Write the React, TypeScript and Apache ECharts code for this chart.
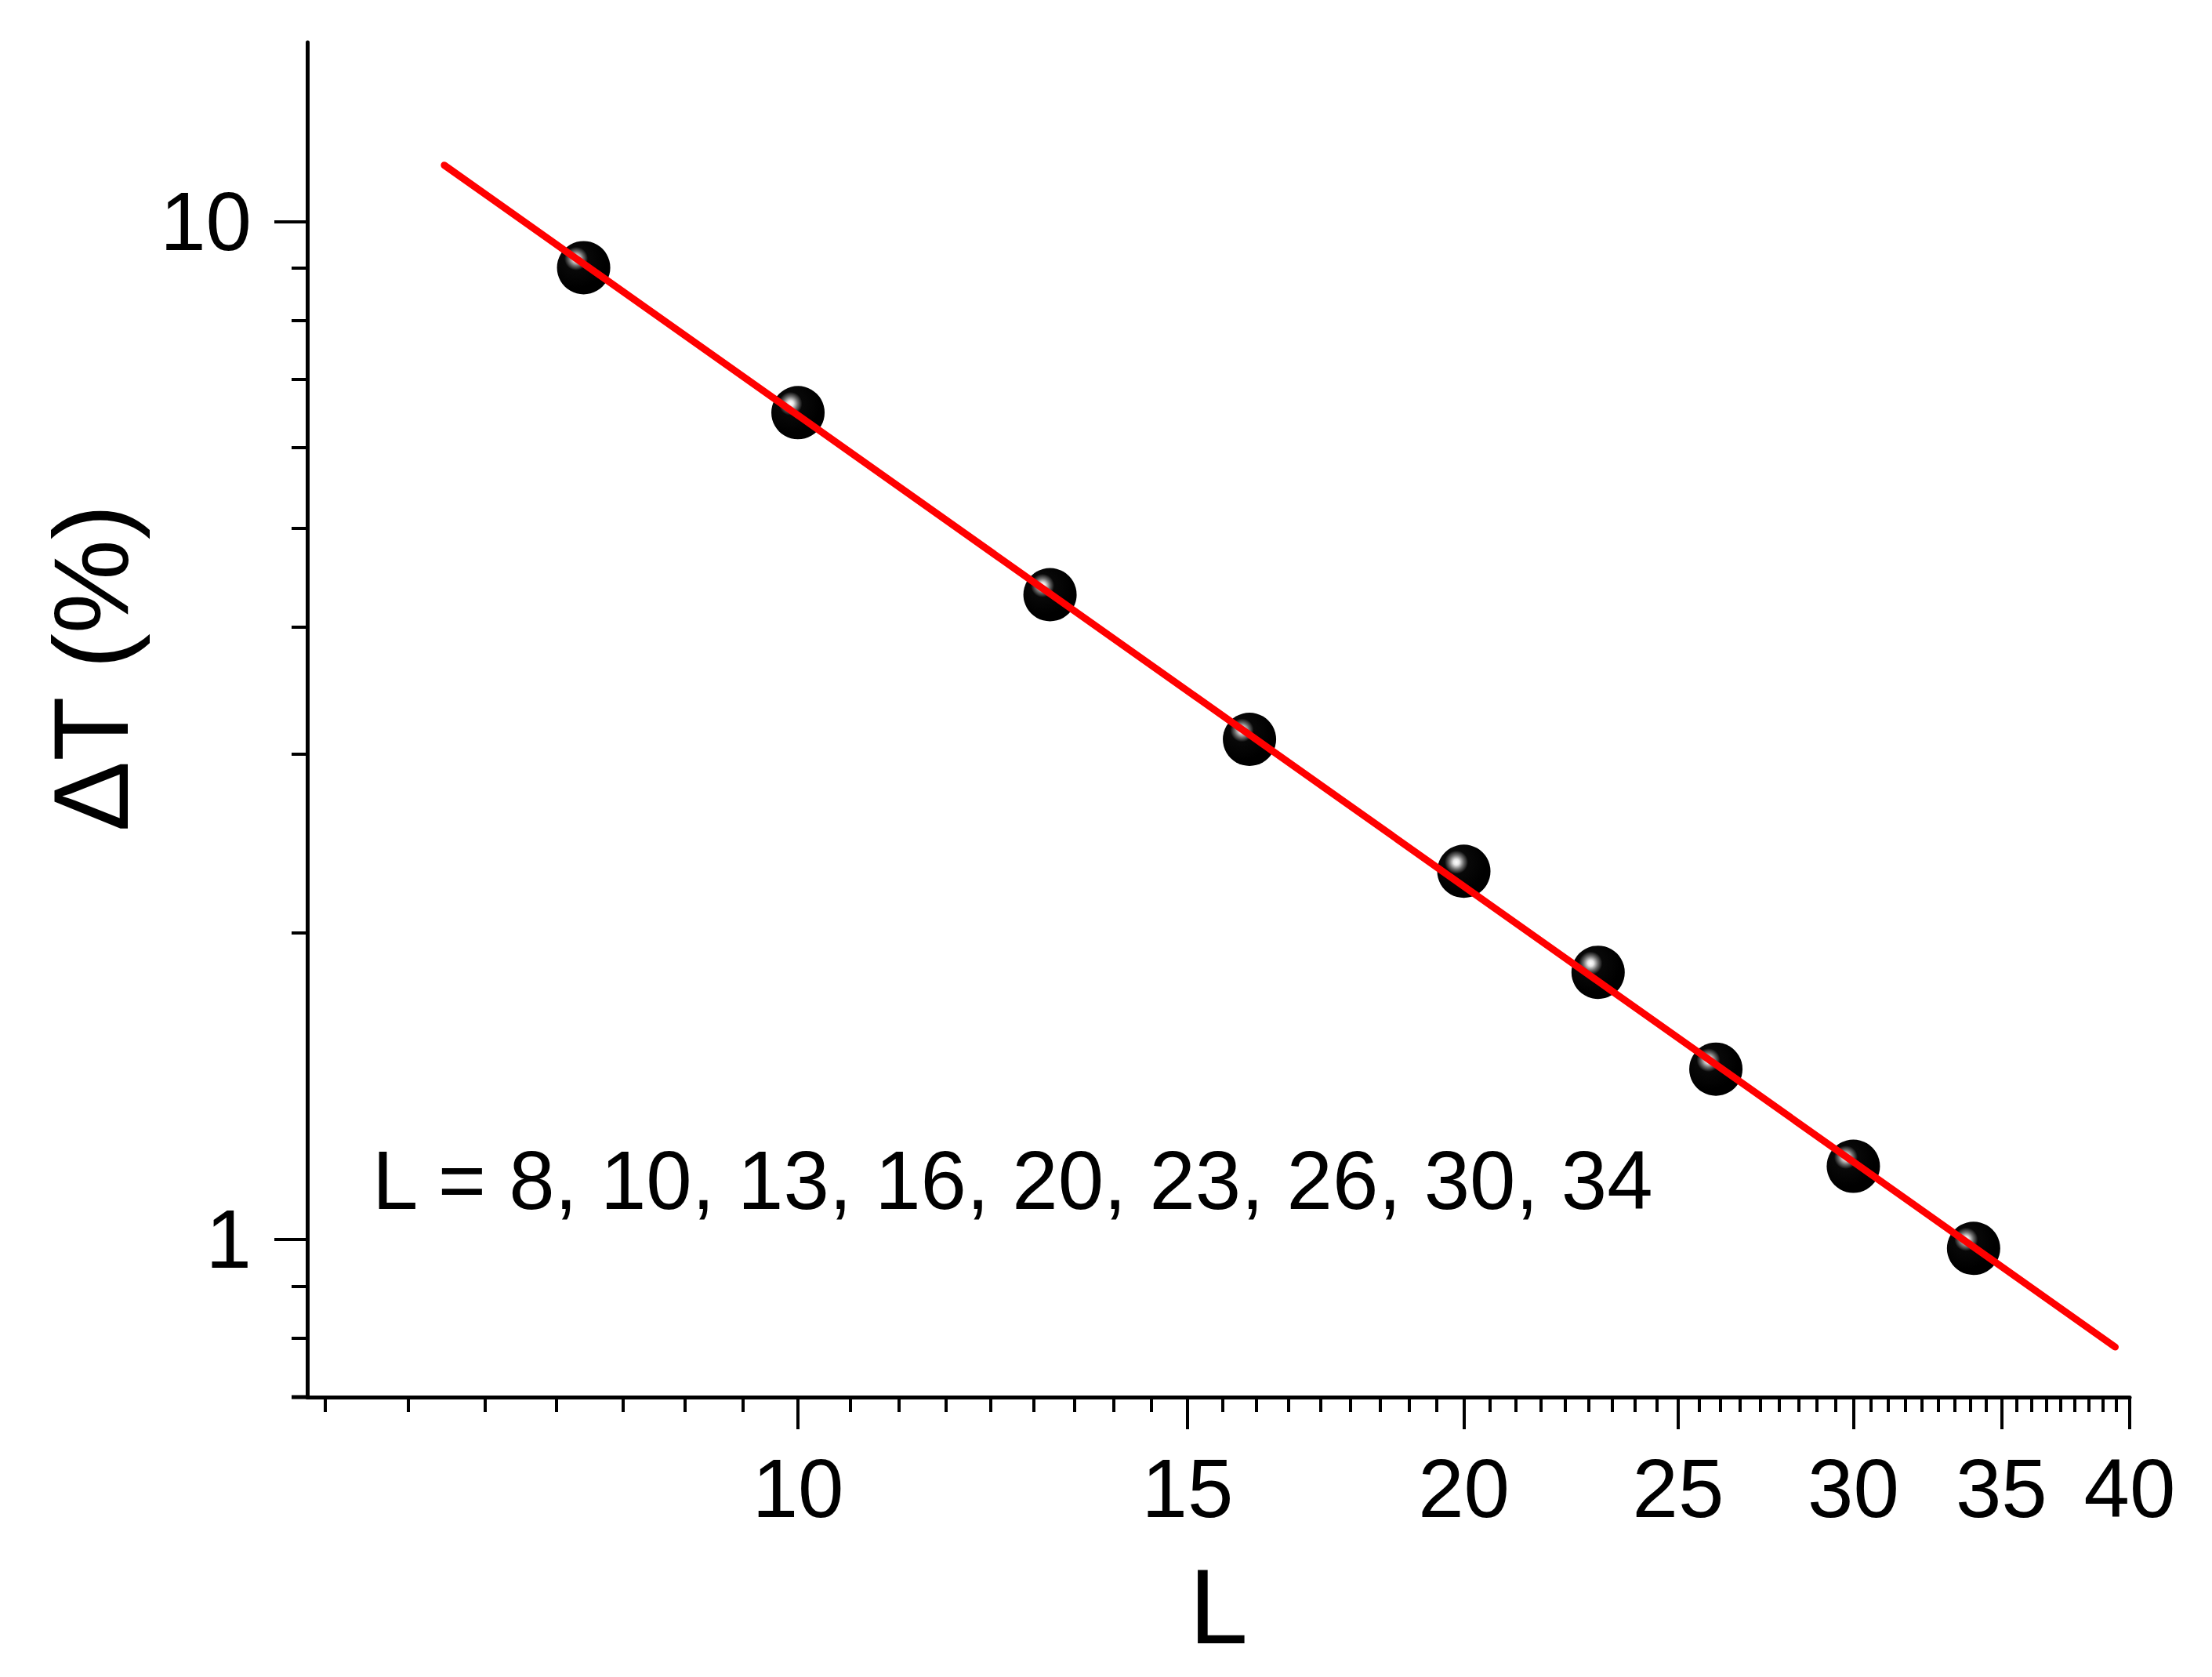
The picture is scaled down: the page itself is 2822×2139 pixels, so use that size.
import React, { useEffect, useRef } from "react";
import * as echarts from "echarts";

// ---- data ----
const sizesL = [8, 10, 13, 16, 20, 23, 26, 30, 34];
const deltaT = [9.01, 6.49, 4.3, 3.1, 2.3, 1.83, 1.47, 1.18, 0.98];
const fitL = [6.92, 39.4];
const fitDeltaT = [11.36, 0.784];

// ---- axis ticks ----
const xMajorTicks = [10, 15, 20, 25, 30, 35, 40];
const xMajorStarts = [5, 10, 15, 20, 25, 30, 35];
const xMinorTicks: number[] = [];
xMajorStarts.forEach((s) => {
  for (let k = 1; k <= 8; k++) {
    const v = s + (5 * k) / 9;
    if (v >= 6) xMinorTicks.push(v);
  }
});
const yMajorTicks = [1, 10];
const yMinorTicks = [0.8, 0.9, 2, 3, 4, 5, 6, 7, 8, 9];
const annotation = "L = 8, 10, 13, 16, 20, 23, 26, 30, 34";

const FONT = "'Liberation Sans', Arial, sans-serif";

export default function App() {
  const ref = useRef<HTMLDivElement>(null);
  useEffect(() => {
    if (!ref.current) return;
    const chart = echarts.init(ref.current, undefined, { renderer: "svg" });
    const axisLine = { show: true, lineStyle: { color: "#000", width: 5 } };
    const tickStyle = { color: "#000", width: 4 };
    const sphere = new echarts.graphic.RadialGradient(0.36, 0.33, 0.55, [
      { offset: 0, color: "#ffffff" },
      { offset: 0.1, color: "#e6e6e6" },
      { offset: 0.25, color: "#6a6a6a" },
      { offset: 0.4, color: "#080808" },
      { offset: 1, color: "#000000" },
    ]);
    chart.setOption({
      animation: false,
      backgroundColor: "#ffffff",
      grid: { left: 392, top: 54, width: 2325, height: 1728, containLabel: false },
      xAxis: [
        {
          type: "log",
          min: 6,
          max: 40,
          position: "bottom",
          axisLine,
          axisTick: { show: true, customValues: xMajorTicks, length: 41, lineStyle: tickStyle },
          minorTick: { show: false },
          splitLine: { show: false },
          axisLabel: {
            customValues: xMajorTicks,
            formatter: (v: number) => String(Math.round(v)),
            margin: 64,
            fontSize: 105,
            color: "#000",
            fontFamily: FONT,
          },
          name: "L",
          nameLocation: "middle",
          nameGap: 200,
          nameTextStyle: { fontSize: 135, color: "#000", fontFamily: FONT },
        },
        {
          type: "log",
          min: 6,
          max: 40,
          position: "bottom",
          offset: 0,
          axisLine: { show: false },
          axisTick: { show: true, customValues: xMinorTicks, length: 19, lineStyle: tickStyle },
          minorTick: { show: false },
          splitLine: { show: false },
          axisLabel: { show: false },
        },
      ],
      yAxis: [
        {
          type: "log",
          min: 0.7,
          max: 15,
          position: "left",
          axisLine,
          axisTick: { show: true, customValues: yMajorTicks, length: 42, lineStyle: tickStyle },
          minorTick: { show: false },
          splitLine: { show: false },
          axisLabel: {
            customValues: yMajorTicks,
            formatter: (v: number) => String(Math.round(v)),
            margin: 71,
            fontSize: 105,
            color: "#000",
            fontFamily: FONT,
          },
          name: "ΔT (%)",
          nameLocation: "middle",
          nameGap: 208,
          nameTextStyle: { fontSize: 135, color: "#000", fontFamily: FONT, padding: [0, 0, 0, 132] },
        },
        {
          type: "log",
          min: 0.7,
          max: 15,
          position: "left",
          offset: 0,
          axisLine: { show: false },
          axisTick: { show: true, customValues: yMinorTicks, length: 20, lineStyle: tickStyle },
          minorTick: { show: false },
          splitLine: { show: false },
          axisLabel: { show: false },
        },
      ],
      graphic: [
        {
          type: "line",
          shape: { x1: 372, y1: 1782, x2: 392, y2: 1782 },
          style: { stroke: "#000", lineWidth: 5 },
        },
        {
          type: "text",
          x: 475,
          y: 1505,
          style: {
            text: annotation,
            fontSize: 105,
            fontFamily: FONT,
            fill: "#000",
            verticalAlign: "middle",
            align: "left",
          },
        },
      ],
      series: [
        {
          type: "scatter",
          xAxisIndex: 0,
          yAxisIndex: 0,
          data: sizesL.map((l, i) => [l, deltaT[i]]),
          symbol: "circle",
          symbolSize: 68,
          itemStyle: { color: sphere, opacity: 1 },
          z: 2,
        },
        {
          type: "line",
          xAxisIndex: 0,
          yAxisIndex: 0,
          data: fitL.map((l, i) => [l, fitDeltaT[i]]),
          symbol: "none",
          lineStyle: { color: "#ff0000", width: 9, cap: "round" },
          z: 3,
        },
      ],
    });
    return () => chart.dispose();
  }, []);
  return (
    <div
      ref={ref}
      style={{ position: "fixed", left: 0, top: 0, width: 2822, height: 2139, background: "#fff" }}
    />
  );
}
